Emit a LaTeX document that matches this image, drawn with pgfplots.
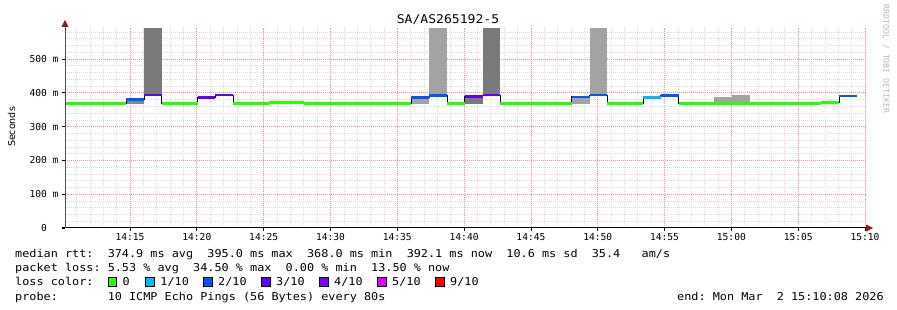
\documentclass[border=0pt]{standalone}
\usepackage{fontspec}
\setmainfont{DejaVu Sans}
\newfontfamily\mono{DejaVu Sans Mono}
\usepackage{graphicx}
\usepackage{pgfplots}
\pgfplotsset{compat=1.18}
\usetikzlibrary{arrows.meta}
\definecolor{c0}{HTML}{26FF00}
\definecolor{c1}{HTML}{00B8FF}
\definecolor{c2}{HTML}{0059FF}
\definecolor{c3}{HTML}{5E00FF}
\definecolor{c4}{HTML}{7E00FF}
\definecolor{c5}{HTML}{DD00FF}
\definecolor{c9}{HTML}{FF0000}
\definecolor{smokedark}{HTML}{7A7A7A}
\definecolor{smokemid}{HTML}{858585}
\definecolor{smokelight}{HTML}{A3A3A3}
\definecolor{majgrid}{HTML}{FF8C8C}
\definecolor{mingrid}{HTML}{DCDCDC}
\definecolor{arrowc}{HTML}{8B1A1A}
\newcommand\lf{\mono\fontsize{10.8}{12}\selectfont}
\newcommand\lt[1]{\scalebox{1.095}[1]{\lf #1}}
\tikzset{mgrid/.style={draw=majgrid, line width=0.8pt, dash pattern=on 1pt off 1pt}}
\begin{document}
\begin{tikzpicture}[x=1pt,y=1pt]
\useasboundingbox (0,0) rectangle (897,310);
\begin{axis}[
  at={(65pt,82pt)}, anchor=south west,
  scale only axis, width=801.8pt, height=200.4pt,
  xmin=0.133, xmax=60.133, ymin=0, ymax=593,
  axis line style={draw=none},
  xtick pos=bottom, ytick pos=left,
  xtick={5,10,...,60},
  xticklabels={14:15,14:20,14:25,14:30,14:35,14:40,14:45,14:50,14:55,15:00,15:05,15:10},
  minor xtick={1,2,3,4,6,7,8,9,11,12,13,14,16,17,18,19,21,22,23,24,26,27,28,29,31,32,33,34,36,37,38,39,41,42,43,44,46,47,48,49,51,52,53,54,56,57,58,59},
  ytick={0,100,...,500},
  yticklabels={0,100 m,200 m,300 m,400 m,500 m},
  minor ytick={20,40,60,80,120,140,160,180,220,240,260,280,320,340,360,380,420,440,460,480,520,540,560,580},
  xminorgrids, yminorgrids,
  every axis grid/.style={},
  every minor grid/.style={color=mingrid, line width=0.7pt, dash pattern=on 1pt off 1pt},
  tick style={line width=0.8pt, black},
  tick align=outside, major tick length=3pt, minor tick length=0pt,
  xticklabel style={font=\mono\fontsize{9.6}{10}\selectfont, anchor=north, inner sep=0pt, yshift=-2pt},
  yticklabel style={font=\mono\fontsize{9.6}{10}\selectfont, anchor=center, inner sep=0pt, xshift=-18pt},
  clip=true,
]
% major grid
\pgfplotsinvokeforeach{5,10,...,60}{\draw[mgrid] (axis cs:#1,0) -- (axis cs:#1,593);}
\pgfplotsinvokeforeach{100,200,...,500}{\draw[mgrid] (axis cs:0.133,#1) -- (axis cs:60.133,#1);}
% smoke
\addplot[fill=smokemid, draw=none] coordinates {(4.72,368) (6.053,368) (6.053,381) (4.72,381)};
\addplot[fill=smokedark, draw=none] coordinates {(6.053,393) (7.387,393) (7.387,593) (6.053,593)};
\addplot[fill=smokelight, draw=none] coordinates {(26.053,368) (27.387,368) (27.387,386.7) (26.053,386.7)};
\addplot[fill=smokelight, draw=none] coordinates {(27.387,393) (28.72,393) (28.72,593) (27.387,593)};
\addplot[fill=smokedark, draw=none] coordinates {(30.053,368) (31.387,368) (31.387,388.5) (30.053,388.5)};
\addplot[fill=smokedark, draw=none] coordinates {(31.387,393.5) (32.72,393.5) (32.72,593) (31.387,593)};
\addplot[fill=smokelight, draw=none] coordinates {(38.053,368) (39.387,368) (39.387,388) (38.053,388)};
\addplot[fill=smokelight, draw=none] coordinates {(39.387,393) (40.72,393) (40.72,593) (39.387,593)};
\addplot[fill=smokelight, draw=none] coordinates {(48.72,368) (50.053,368) (50.053,387.6) (48.72,387.6)};
\addplot[fill=smokelight, draw=none] coordinates {(50.053,368) (51.387,368) (51.387,393.5) (50.053,393.5)};
% median step (black)
\addplot[black, line width=0.9pt, const plot mark left, mark=none] coordinates {
(0.133,368) (4.72,381) (6.053,393) (7.387,368) (10.053,386.6) (11.387,393) (12.72,368)
(15.387,370.7) (18.053,368) (26.053,386.7) (27.387,392.5) (28.72,368) (30.053,388.5)
(31.387,393.5) (32.72,368) (38.053,388) (39.387,393) (40.72,368) (43.387,386.7)
(44.72,392.5) (46.053,368) (56.72,371.9) (58.053,390.5) (59.387,390.5)};
% loss-coloured median segments
\addplot[c0, line width=2.6pt, unbounded coords=jump] coordinates {
(0.133,368) (4.72,368) (4.72,nan)
(7.387,368) (10.053,368) (10.053,nan)
(12.72,368) (15.387,368) (15.387,nan)
(15.387,370.7) (18.053,370.7) (18.053,nan)
(18.053,368) (26.053,368) (26.053,nan)
(28.72,368) (30.053,368) (30.053,nan)
(32.72,368) (38.053,368) (38.053,nan)
(40.72,368) (43.387,368) (43.387,nan)
(46.053,368) (56.72,368) (56.72,nan)
(56.72,371.9) (58.053,371.9)};
\addplot[c1, line width=2.6pt] coordinates {(43.387,386.7) (44.72,386.7)};
\addplot[c2, line width=2.6pt, unbounded coords=jump] coordinates {
(4.72,381) (6.053,381) (6.053,nan)
(26.053,386.7) (27.387,386.7) (27.387,nan)
(27.387,392.5) (28.72,392.5) (28.72,nan)
(38.053,388) (39.387,388) (39.387,nan)
(39.387,393) (40.72,393) (40.72,nan)
(44.72,392.5) (46.053,392.5) (46.053,nan)
(58.053,390.5) (59.387,390.5)};
\addplot[c3, line width=2.6pt, unbounded coords=jump] coordinates {
(6.053,393) (7.387,393) (7.387,nan)
(10.053,386.6) (11.387,386.6) (11.387,nan)
(11.387,393) (12.72,393) (12.72,nan)
(30.053,388.5) (31.387,388.5) (31.387,nan)
(31.387,393.5) (32.72,393.5)};
\end{axis}
% axis lines with arrows
\draw[line width=1pt, black] (62,82) -- (867,82);
\fill[arrowc] (866,78.5) -- (873,82) -- (866,85.5) -- cycle;
\draw[line width=1pt, black!70] (65,82) -- (65,284);
\fill[arrowc] (61.5,283) -- (65,290) -- (68.5,283) -- cycle;
% title
\node[anchor=base, inner sep=0] at (448,286.7) {\scalebox{1.09}[1]{\mono\fontsize{12}{14}\selectfont SA/AS265192-5}};
% y label
\node[rotate=90, inner sep=0] at (11.5,183) {\fontsize{9.5}{10}\selectfont Seconds};
% watermark
\node[rotate=-90, inner sep=0, text=black!28] at (886,251) {\mono\fontsize{8.2}{9}\selectfont RRDTOOL~/~TOBI~OETIKER};
% legend
\node[anchor=base west, inner sep=0] at (15,52.5) {\lt{median~rtt:~~374.9~ms~avg~~395.0~ms~max~~368.0~ms~min~~392.1~ms~now~~10.6~ms~sd~~35.4~~~am/s}};
\node[anchor=base west, inner sep=0] at (15,38.3) {\lt{packet~loss:~5.53~\%~avg~~34.50~\%~max~~0.00~\%~min~~13.50~\%~now}};
\node[anchor=base west, inner sep=0] at (15,24.1) {\lt{loss~color:}};
\node[anchor=base west, inner sep=0] at (15,9.9) {\lt{probe:~~~~~~~10~ICMP~Echo~Pings~(56~Bytes)~every~80s}};
\node[anchor=base west, inner sep=0] at (677,9.9) {\lt{end:~Mon~Mar~~2~15:10:08~2026}};
\foreach \bx/\col/\lab in {108/c0/0, 145.7/c1/1\slash 10, 203.5/c2/2\slash 10, 261.5/c3/3\slash 10, 319.5/c4/4\slash 10, 377.5/c5/5\slash 10, 435.5/c9/9\slash 10}{
  \filldraw[fill=\col, draw=black, line width=0.8pt] (\bx,23.9) rectangle ++(8.4,8.4);
  \node[anchor=base west, inner sep=0] at (\bx+14.5,24.1) {\lt{\lab}};
}
\end{tikzpicture}
\end{document}
